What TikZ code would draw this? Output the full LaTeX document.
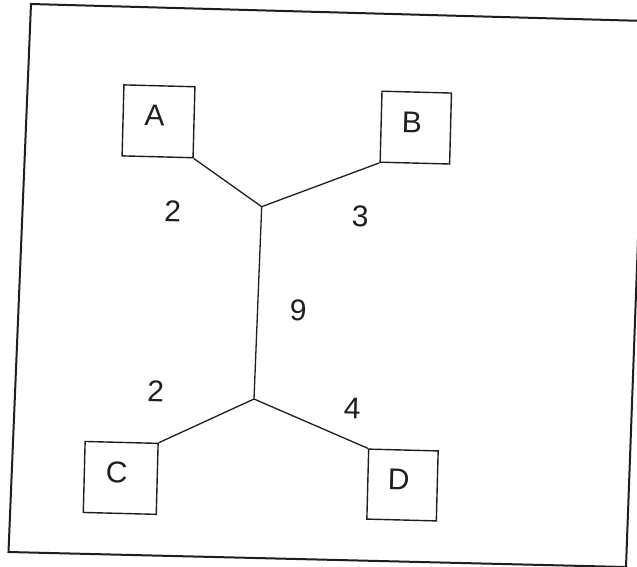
\documentclass[tikz,border=0pt]{standalone}
\usepackage{fontspec}
\setmainfont{Liberation Sans}
\definecolor{ink}{HTML}{1E1E1E}
\tikzset{
  leaf/.style={draw=ink, line width=1.4pt, minimum width=71pt, minimum height=71pt,
    inner sep=0pt, text depth=11pt, rotate=-1.5, text=ink,
    font=\fontsize{30}{30}\selectfont, execute at begin node=\hspace*{-8pt}},
  weight/.style={inner sep=0pt, rotate=-1.5, text=ink, font=\fontsize{30}{30}\selectfont},
  edge/.style={draw=ink, line width=1.3pt},
  frame/.style={draw=ink, line width=2pt, line join=miter}
}
\begin{document}
\begin{tikzpicture}[x=1pt, y=-1pt]
  \useasboundingbox (0,0) rectangle (637,566);
  \clip (0,0) rectangle (637,566);
  \fill[white] (0,0) rectangle (637,566);

  % surrounding frame
  \draw[frame] (31,4) -- (646,21) -- (626,567) -- (8.5,552) -- cycle;

  % leaves of the tree
  \node[leaf] (A) at (158.5,121.3) {A};
  \node[leaf, minimum width=69.5pt] (B) at (415.8,127.6) {B};
  \node[leaf, minimum width=73pt] (C) at (120.7,477.9) {C};
  \node[leaf, minimum width=69.5pt, minimum height=70pt] (D) at (402.5,485) {D};

  % inner junctions
  \coordinate (jt) at (261.7,206.7);
  \coordinate (jb) at (254,399);

  % branches
  \draw[edge] (A.south east) -- (jt);
  \draw[edge] (B.south west) -- (jt);
  \draw[edge] (jt) -- (jb);
  \draw[edge] (C.north east) -- (jb);
  \draw[edge] (D.north west) -- (jb);

  % branch lengths
  \node[weight] (wA) at (172.7,211.7) {2};
  \node[weight] (wB) at (360.3,216.2) {3};
  \node[weight] (wM) at (298.3,310.7) {9};
  \node[weight] (wC) at (155.7,391.7) {2};
  \node[weight] (wD) at (352.3,408.3) {4};
\end{tikzpicture}
\end{document}
